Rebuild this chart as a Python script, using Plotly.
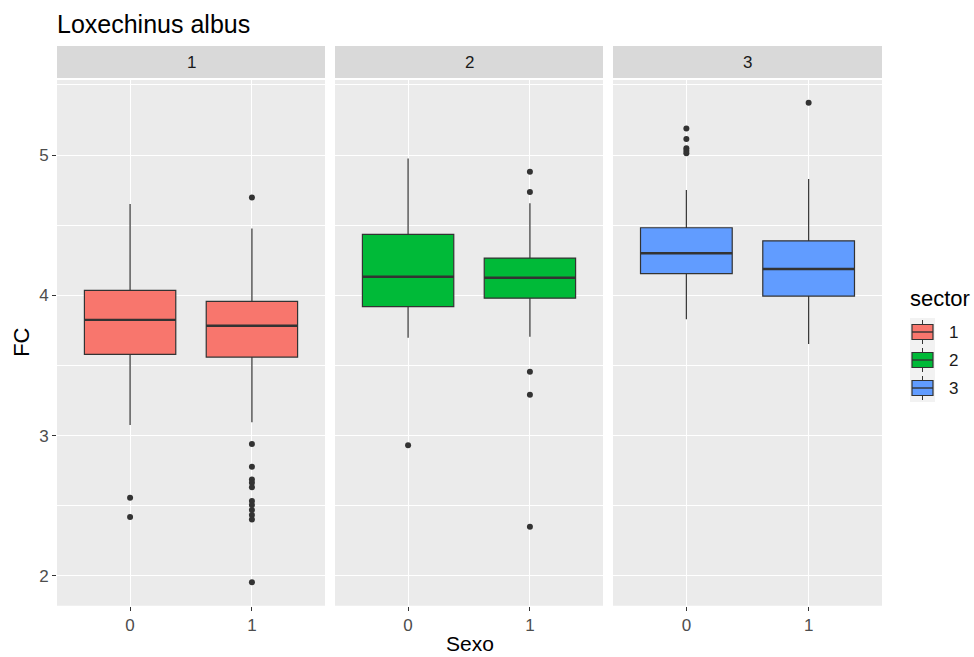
import plotly.graph_objects as go

# Box statistics of FC by Sexo, faceted by sector
sectors = ["1", "2", "3"]
sexo = [0, 1]
colors = {"1": "#F8766D", "2": "#00BA38", "3": "#619CFF"}

q1 = {"1": [3.58, 3.56], "2": [3.92, 3.98], "3": [4.155, 3.995]}
median = {"1": [3.825, 3.783], "2": [4.133, 4.126], "3": [4.30, 4.188]}
q3 = {"1": [4.035, 3.957], "2": [4.435, 4.266], "3": [4.482, 4.389]}
lowerfence = {"1": [3.076, 3.095], "2": [3.698, 3.705], "3": [3.829, 3.653]}
upperfence = {"1": [4.651, 4.477], "2": [4.976, 4.656], "3": [4.751, 4.829]}

outliers = {
    "1": [[2.557, 2.42],
          [4.698, 2.94, 2.778, 2.688, 2.665, 2.632, 2.534, 2.505, 2.47,
           2.434, 2.403, 1.955]],
    "2": [[2.931],
          [4.881, 4.736, 3.456, 3.292, 2.351]],
    "3": [[5.19, 5.115, 5.048, 5.03, 5.013],
          [5.373]],
}

y_ticks = [2, 3, 4, 5]
y_range = [1.788, 5.535]
x_range = [-0.6, 1.6]
box_width = 0.75

W, H = 974, 657
# panel extents in pixels
panels_px = [(57, 325), (335, 603), (613, 882)]
plot_top, plot_bottom = 80, 605.7
strip_top, strip_bottom = 46, 78


def px_x(v):
    return v / W


def px_y(v):
    return 1 - v / H


fig = go.Figure()
font_family = "Liberation Sans, Arial, sans-serif"
tick_font = dict(family=font_family, size=17, color="#4D4D4D")
edge = "#333333"

for i, s in enumerate(sectors):
    xa = "x" if i == 0 else f"x{i + 1}"
    ya = "y" if i == 0 else f"y{i + 1}"
    for j, sx in enumerate(sexo):
        fig.add_trace(go.Box(
            x=[sx], q1=[q1[s][j]], median=[median[s][j]], q3=[q3[s][j]],
            lowerfence=[lowerfence[s][j]], upperfence=[upperfence[s][j]],
            width=box_width, whiskerwidth=0, fillcolor=colors[s],
            line=dict(color=edge, width=1.2),
            boxpoints=False, name=s, showlegend=False,
            xaxis=xa, yaxis=ya, hoverinfo="skip",
        ))
        # thicker median bar
        fig.add_trace(go.Scatter(
            x=[sx - box_width / 2, sx + box_width / 2],
            y=[median[s][j], median[s][j]], mode="lines",
            line=dict(color=edge, width=2.4), showlegend=False,
            xaxis=xa, yaxis=ya, hoverinfo="skip",
        ))
        pts = outliers[s][j]
        fig.add_trace(go.Scatter(
            x=[sx] * len(pts), y=pts, mode="markers",
            marker=dict(color=edge, size=6), showlegend=False,
            xaxis=xa, yaxis=ya, hoverinfo="skip",
        ))

    x0, x1 = panels_px[i]
    xkey = "xaxis" if i == 0 else f"xaxis{i + 1}"
    ykey = "yaxis" if i == 0 else f"yaxis{i + 1}"
    fig.layout[xkey] = dict(
        domain=[px_x(x0), px_x(x1)], range=x_range,
        tickvals=sexo, ticktext=[str(v) for v in sexo],
        showgrid=True, gridcolor="white", gridwidth=1.3,
        zeroline=False, ticks="outside", ticklen=4, tickcolor=edge,
        tickwidth=1, tickfont=tick_font, anchor=ya, automargin=False,
        showline=False,
    )
    fig.layout[ykey] = dict(
        domain=[px_y(plot_bottom), px_y(plot_top)], range=y_range,
        tickvals=y_ticks, showgrid=True, gridcolor="white", gridwidth=1.3,
        minor=dict(dtick=0.5, tick0=0, showgrid=True, gridcolor="white",
                   gridwidth=0.6),
        zeroline=False, anchor=xa, automargin=False,
        showticklabels=(i == 0), ticks="outside" if i == 0 else "",
        ticklen=4, tickcolor=edge, tickwidth=1, tickfont=tick_font,
    )

    # facet strip
    fig.add_shape(type="rect", xref="paper", yref="paper",
                  x0=px_x(x0), x1=px_x(x1), y0=px_y(strip_bottom), y1=px_y(strip_top),
                  fillcolor="#D9D9D9", line=dict(width=0), layer="below")
    fig.add_annotation(text=s, xref="paper", yref="paper",
                       x=px_x((x0 + x1) / 2), y=px_y((strip_top + strip_bottom) / 2),
                       showarrow=False, xanchor="center", yanchor="middle",
                       font=dict(family=font_family, size=17, color="#1A1A1A"))
    # panel background
    fig.add_shape(type="rect", xref="paper", yref="paper",
                  x0=px_x(x0), x1=px_x(x1), y0=px_y(plot_bottom), y1=px_y(plot_top),
                  fillcolor="#EBEBEB", line=dict(width=0), layer="below")

# legend: title, key glyphs (box with median and whisker stubs) and labels
key_left, key_right = 912, 933
key_pitch = 28
key_first_center = 332
fig.add_annotation(text="sector", xref="paper", yref="paper",
                   x=px_x(908), y=px_y(298), xanchor="left", yanchor="middle",
                   showarrow=False, font=dict(family=font_family, size=22, color="black"))
fig.add_shape(type="rect", xref="paper", yref="paper",
              x0=px_x(910), x1=px_x(935),
              y0=px_y(key_first_center + 2 * key_pitch + 14),
              y1=px_y(key_first_center - 14),
              fillcolor="#F2F2F2", line=dict(width=0))
for k, s in enumerate(sectors):
    cy = key_first_center + k * key_pitch
    cx = (key_left + key_right) / 2
    fig.add_shape(type="line", xref="paper", yref="paper",
                  x0=px_x(cx), x1=px_x(cx), y0=px_y(cy - 12), y1=px_y(cy + 12),
                  line=dict(color=edge, width=1))
    fig.add_shape(type="rect", xref="paper", yref="paper",
                  x0=px_x(key_left), x1=px_x(key_right),
                  y0=px_y(cy + 7.5), y1=px_y(cy - 7.5),
                  fillcolor=colors[s], line=dict(color=edge, width=1.2))
    fig.add_shape(type="line", xref="paper", yref="paper",
                  x0=px_x(key_left), x1=px_x(key_right), y0=px_y(cy), y1=px_y(cy),
                  line=dict(color=edge, width=1.4))
    fig.add_annotation(text=s, xref="paper", yref="paper",
                       x=px_x(947), y=px_y(cy), xanchor="left", yanchor="middle",
                       showarrow=False,
                       font=dict(family=font_family, size=17, color="#1A1A1A"))

fig.update_layout(
    width=W, height=H,
    margin=dict(l=0, r=0, t=0, b=0),
    paper_bgcolor="white", plot_bgcolor="rgba(0,0,0,0)",
    font=dict(family=font_family),
    showlegend=False,
)

# titles
fig.add_annotation(text="Loxechinus albus", xref="paper", yref="paper",
                   x=px_x(55), y=px_y(24), xanchor="left", yanchor="middle",
                   showarrow=False, font=dict(family=font_family, size=25, color="black"))
fig.add_annotation(text="FC", xref="paper", yref="paper",
                   x=px_x(22), y=px_y((plot_top + plot_bottom) / 2), textangle=-90,
                   xanchor="center", yanchor="middle", showarrow=False,
                   font=dict(family=font_family, size=22, color="black"))
fig.add_annotation(text="Sexo", xref="paper", yref="paper",
                   x=px_x(469.5), y=px_y(643), xanchor="center", yanchor="middle",
                   showarrow=False, font=dict(family=font_family, size=21, color="black"))

fig.write_html("out.html")
